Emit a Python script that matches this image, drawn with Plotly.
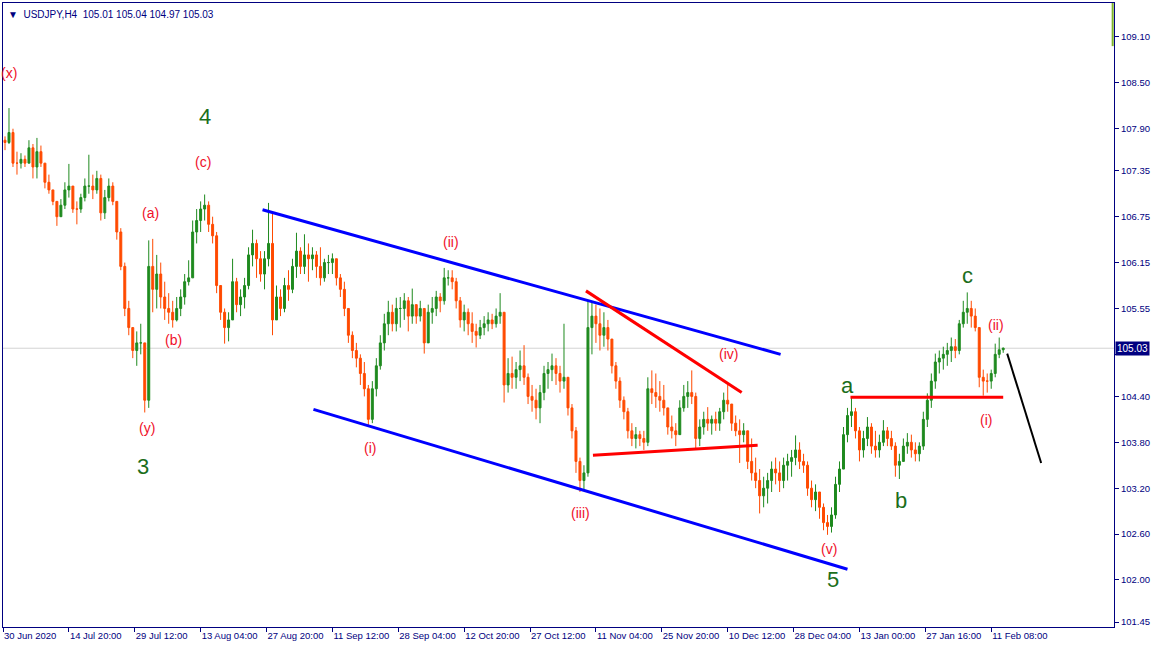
import plotly.graph_objects as go

# ---------------- data (USDJPY H4, each candle ~4 H4 bars) ----------------
first_open = 107.75
close = [107.72,107.85,107.45,107.45,107.50,107.45,107.65,107.40,107.60,107.45,
         107.20,107.10,106.95,106.75,106.90,107.10,107.15,106.85,106.85,107.00,
         107.15,107.15,107.10,107.25,106.80,107.00,107.15,106.95,106.55,106.10,
         105.55,105.30,105.00,105.10,105.10,104.35,106.10,105.80,106.00,105.70,
         105.55,105.50,105.40,105.55,105.70,105.90,105.95,106.55,106.70,106.85,
         106.90,106.65,106.50,105.85,105.50,105.30,105.40,105.90,105.60,105.70,
         105.85,106.25,106.40,106.20,106.00,106.20,106.40,105.40,105.70,105.55,
         105.85,105.80,106.10,106.30,106.10,106.25,106.20,106.25,106.10,105.95,
         106.15,106.15,106.20,105.95,105.80,105.55,105.20,105.00,104.90,104.70,
         104.50,104.10,104.50,104.80,105.10,105.35,105.50,105.35,105.55,105.55,
         105.65,105.45,105.60,105.45,105.55,105.10,105.50,105.55,105.70,105.65,
         105.95,105.95,105.90,105.65,105.40,105.50,105.35,105.25,105.20,105.30,
         105.35,105.40,105.35,105.45,105.50,104.55,104.70,104.65,104.75,104.80,
         104.65,104.40,104.35,104.25,104.45,104.70,104.75,104.80,104.70,104.60,
         104.65,104.25,103.95,103.55,103.30,103.40,105.30,105.45,105.35,105.20,
         105.30,105.15,104.80,104.60,104.35,104.20,103.95,103.85,103.90,103.85,
         103.80,104.50,104.45,104.40,104.35,104.25,104.00,103.95,103.90,104.25,
         104.40,104.45,104.40,103.85,104.00,104.10,104.05,104.10,104.05,104.20,
         104.35,104.30,104.05,103.95,103.90,103.95,103.55,103.40,103.30,103.10,
         103.20,103.30,103.45,103.40,103.30,103.50,103.55,103.60,103.70,103.55,
         103.50,103.20,103.05,103.15,102.95,102.75,102.70,102.85,103.25,103.45,
         103.90,104.15,104.20,103.95,103.70,103.85,104.00,103.75,103.70,103.80,
         103.95,103.85,103.75,103.50,103.55,103.75,103.80,103.70,103.65,103.75,
         104.10,104.35,104.60,104.85,104.90,104.95,105.00,105.05,105.00,105.35,
         105.50,105.55,105.45,105.30,104.65,104.60,104.60,104.70,104.95,105.01,
         105.03]
high = [107.80,108.17,107.90,107.60,107.58,107.55,107.75,107.70,107.78,107.68,
        107.45,107.30,107.10,106.95,106.98,107.20,107.44,107.15,106.95,107.05,
        107.25,107.56,107.30,107.35,107.30,107.10,107.25,107.20,106.95,106.60,
        106.15,105.65,105.30,105.25,105.35,105.10,106.44,106.46,106.25,106.15,
        105.90,105.75,105.65,105.70,105.80,106.00,106.18,106.70,106.85,106.95,
        107.04,106.95,106.75,106.55,105.85,105.55,105.50,106.20,105.95,105.80,
        105.95,106.35,106.58,106.45,106.30,106.30,106.93,106.80,105.85,105.80,
        105.95,106.05,106.20,106.54,106.35,106.52,106.40,106.35,106.30,106.35,
        106.20,106.25,106.27,106.20,106.00,105.90,105.50,105.25,105.10,104.95,
        104.85,104.55,104.60,104.90,105.20,105.48,105.65,105.60,105.69,105.70,
        105.75,105.70,105.81,105.60,105.65,105.55,105.60,105.70,105.78,105.75,
        106.08,106.05,106.05,105.95,105.70,105.60,105.55,105.50,105.35,105.40,
        105.45,105.50,105.48,105.55,105.75,105.50,104.90,104.92,104.85,105.00,
        105.07,104.70,104.55,104.50,104.55,104.80,104.85,104.96,104.90,104.80,
        105.35,104.65,104.30,104.00,103.60,103.50,105.65,105.63,105.60,105.55,
        105.50,105.40,105.10,104.85,104.65,104.40,104.25,104.05,104.00,103.95,
        103.95,104.65,104.74,104.70,104.60,104.55,104.25,104.15,104.05,104.35,
        104.55,104.60,104.74,104.45,104.10,104.20,104.26,104.15,104.20,104.25,
        104.45,104.57,104.30,104.15,104.10,104.05,103.95,103.85,103.60,103.45,
        103.35,103.40,103.55,103.60,103.55,103.60,103.65,103.70,103.89,103.80,
        103.65,103.55,103.30,103.25,103.15,103.00,102.85,102.95,103.35,103.55,
        104.00,104.25,104.38,104.25,104.00,103.95,104.13,104.05,103.95,103.90,
        104.09,104.00,103.95,103.80,103.65,103.85,103.92,103.90,103.80,103.80,
        104.20,104.44,104.70,104.96,105.00,105.05,105.10,105.17,105.15,105.40,
        105.65,105.76,105.65,105.55,105.30,104.75,104.70,104.75,105.09,105.17,
        105.04]
low = [107.62,107.70,107.40,107.30,107.38,107.40,107.45,107.25,107.25,107.40,
       107.12,107.05,106.90,106.63,106.78,106.85,107.00,106.80,106.65,106.80,
       106.95,107.05,106.98,107.05,106.70,106.72,106.95,106.90,106.45,106.05,
       105.45,105.20,104.90,104.80,104.95,104.19,104.25,105.50,105.55,105.55,
       105.40,105.35,105.30,105.38,105.45,105.60,105.85,105.95,106.40,106.55,
       106.70,106.55,106.40,105.75,105.40,105.09,105.12,105.40,105.50,105.45,
       105.55,105.80,106.10,105.95,105.90,105.80,106.10,105.20,105.40,105.45,
       105.50,105.65,105.75,105.95,106.00,106.00,105.90,106.05,105.95,105.85,
       105.90,106.00,106.00,105.85,105.70,105.45,105.10,104.90,104.78,104.55,
       104.40,104.00,104.05,104.40,104.75,105.00,105.20,105.25,105.25,105.30,
       105.40,105.25,105.35,105.35,105.38,104.96,105.10,105.35,105.45,105.50,
       105.60,105.85,105.80,105.55,105.30,105.25,105.20,105.10,105.04,105.15,
       105.20,105.25,105.28,105.30,105.35,104.32,104.45,104.50,104.50,104.60,
       104.55,104.30,104.20,104.10,104.05,104.35,104.50,104.60,104.55,104.45,
       104.50,104.15,103.85,103.40,103.15,103.18,103.35,104.95,105.10,105.00,
       105.05,105.00,104.70,104.50,104.25,104.10,103.85,103.75,103.72,103.75,
       103.70,103.75,104.30,104.25,104.20,104.15,103.90,103.85,103.75,103.95,
       104.20,104.25,104.30,103.70,103.75,103.90,103.95,103.90,103.95,103.95,
       104.10,104.20,103.95,103.88,103.53,103.80,103.45,103.30,103.20,102.87,
       102.95,103.00,103.15,103.25,103.15,103.20,103.30,103.35,103.50,103.45,
       103.40,103.10,102.95,102.90,102.80,102.65,102.59,102.62,102.80,103.15,
       103.45,103.80,104.00,103.85,103.55,103.60,103.75,103.65,103.60,103.60,
       103.75,103.75,103.70,103.35,103.32,103.55,103.65,103.60,103.55,103.55,
       103.70,104.00,104.25,104.50,104.70,104.75,104.80,104.85,104.90,104.95,
       105.30,105.35,105.30,105.25,104.52,104.41,104.45,104.50,104.65,104.90,
       104.97]

tick_labels = ["30 Jun 2020", "14 Jul 20:00", "29 Jul 12:00", "13 Aug 04:00",
               "27 Aug 20:00", "11 Sep 12:00", "28 Sep 04:00", "12 Oct 20:00",
               "27 Oct 12:00", "11 Nov 04:00", "25 Nov 20:00", "10 Dec 12:00",
               "28 Dec 04:00", "13 Jan 00:00", "27 Jan 16:00", "11 Feb 08:00"]
price_ticks = [109.10, 108.50, 107.90, 107.35, 106.75, 106.15, 105.55, 104.95,
               104.40, 103.80, 103.20, 102.60, 102.00, 101.45]
last_price = 105.03
header = "\u25BC  USDJPY,H4  105.01 105.04 104.97 105.03"

# trend lines: (x0, y0, x1, y1) in candle index / price
channel_upper = (64.5, 106.84, 194.25, 104.95)
channel_lower = (77.25, 104.23, 211.0, 102.14)
red_falling = (145.5, 105.78, 184.5, 104.45)
red_base = (147.25, 103.63, 188.5, 103.76)
red_level = (211.75, 104.39, 250.0, 104.39)
projection = (251.0, 104.96, 259.5, 103.53)

# wave labels: (text, x index, price, kind)
wave_labels = [
    ("(x)", 0.9, 108.63, "red"), ("4", 50.0, 108.06, "green"),
    ("(c)", 49.5, 107.47, "red"), ("(a)", 36.5, 106.80, "red"),
    ("(b)", 42.25, 105.14, "red"), ("(y)", 35.5, 103.99, "red"),
    ("3", 34.5, 103.49, "green"), ("(i)", 91.5, 103.73, "red"),
    ("(ii)", 111.75, 106.42, "red"), ("(iii)", 144.25, 102.87, "red"),
    ("(iv)", 181.25, 104.95, "red"), ("(v)", 206.25, 102.40, "red"),
    ("5", 207.25, 102.00, "green"), ("a", 211.0, 104.54, "green"),
    ("b", 224.5, 103.04, "green"), ("c", 241.0, 105.98, "green"),
    ("(ii)", 248.25, 105.33, "red"), ("(i)", 245.75, 104.09, "red"),
]

# ---------------- figure ----------------
n = len(close)
xs = list(range(n))
opens = [first_open] + close[:-1]
hi = [max(h, o, c) for h, o, c in zip(high, opens, close)]
lo = [min(l, o, c) for l, o, c in zip(low, opens, close)]

UP = "#1F8A1F"
DOWN = "#FF4A00"
NAVY = "#000080"
FONT = "Liberation Sans"

fig = go.Figure()
fig.add_trace(go.Candlestick(
    x=xs, open=opens, high=hi, low=lo, close=close,
    increasing=dict(line=dict(color=UP, width=1), fillcolor=UP),
    decreasing=dict(line=dict(color=DOWN, width=1), fillcolor=DOWN),
    whiskerwidth=0, hoverinfo="skip", showlegend=False,
))

x_min, x_max = -0.5, 277.75
y_min, y_max = 101.385, 109.544

shapes = []
shapes.append(dict(type="line", xref="x", yref="y", x0=x_min, x1=x_max,
                   y0=last_price, y1=last_price, layer="below",
                   line=dict(color="#D3D3D3", width=1)))
for seg, col, w in [(channel_upper, "#0000FF", 3), (channel_lower, "#0000FF", 3),
                    (red_falling, "#FF0000", 3), (red_base, "#FF0000", 3),
                    (red_level, "#FF0000", 3), (projection, "#000000", 2)]:
    shapes.append(dict(type="line", xref="x", yref="y", x0=seg[0], y0=seg[1],
                       x1=seg[2], y1=seg[3], line=dict(color=col, width=w)))
shapes.append(dict(type="line", xref="paper", yref="y", x0=0.9988, x1=0.9988,
                   y0=y_max, y1=108.98, line=dict(color="#7DB32A", width=2)))

annotations = []
for txt, xi, py, kind in wave_labels:
    if kind == "red":
        font = dict(family=FONT, size=14, color="#F0102A")
    else:
        font = dict(family=FONT, size=22, color="#1B6E1B")
    annotations.append(dict(text=txt, x=xi, y=py, xref="x", yref="y",
                            showarrow=False, font=font,
                            xanchor="center", yanchor="middle"))
annotations.append(dict(text=header, xref="paper", yref="paper", x=0.003, y=1,
                        xanchor="left", yanchor="top", yshift=-4, showarrow=False,
                        font=dict(family=FONT, size=10, color=NAVY)))
annotations.append(dict(text="%.2f" % last_price, xref="paper", yref="y", x=1,
                        y=last_price, xanchor="left", yanchor="middle",
                        showarrow=False, bgcolor=NAVY, borderpad=1, xshift=1,
                        font=dict(family=FONT, size=10, color="white")))

tick_step = 16.5
tickvals = [x_min + tick_step * k for k in range(len(tick_labels))]
# the label of the tick hidden under the current-price box is left blank
price_text = ["" if abs(v - last_price) < 0.15 else "%.2f" % v for v in price_ticks]

fig.update_layout(
    width=1152, height=648,
    margin=dict(l=2, r=37, t=2, b=21),
    paper_bgcolor="white", plot_bgcolor="white",
    showlegend=False, hovermode=False,
    shapes=shapes, annotations=annotations,
    xaxis=dict(range=[x_min, x_max], rangeslider=dict(visible=False),
               showgrid=False, zeroline=False, showline=True, linecolor=NAVY,
               linewidth=1, mirror=True, ticks="outside", ticklen=4,
               tickcolor=NAVY, tickvals=tickvals, ticktext=tick_labels,
               tickfont=dict(family=FONT, size=9.5, color=NAVY),
               ticklabelposition="outside right", fixedrange=True),
    yaxis=dict(range=[y_min, y_max], side="right", showgrid=False,
               zeroline=False, showline=True, linecolor=NAVY, linewidth=1,
               mirror=True, ticks="outside", ticklen=4, tickcolor=NAVY,
               tickvals=price_ticks, ticktext=price_text,
               tickfont=dict(family=FONT, size=9.5, color=NAVY), fixedrange=True),
)

fig.write_html("out.html", config={"displayModeBar": False},
               post_script="document.body.style.margin='0';"
                           "document.body.style.overflow='hidden';")
